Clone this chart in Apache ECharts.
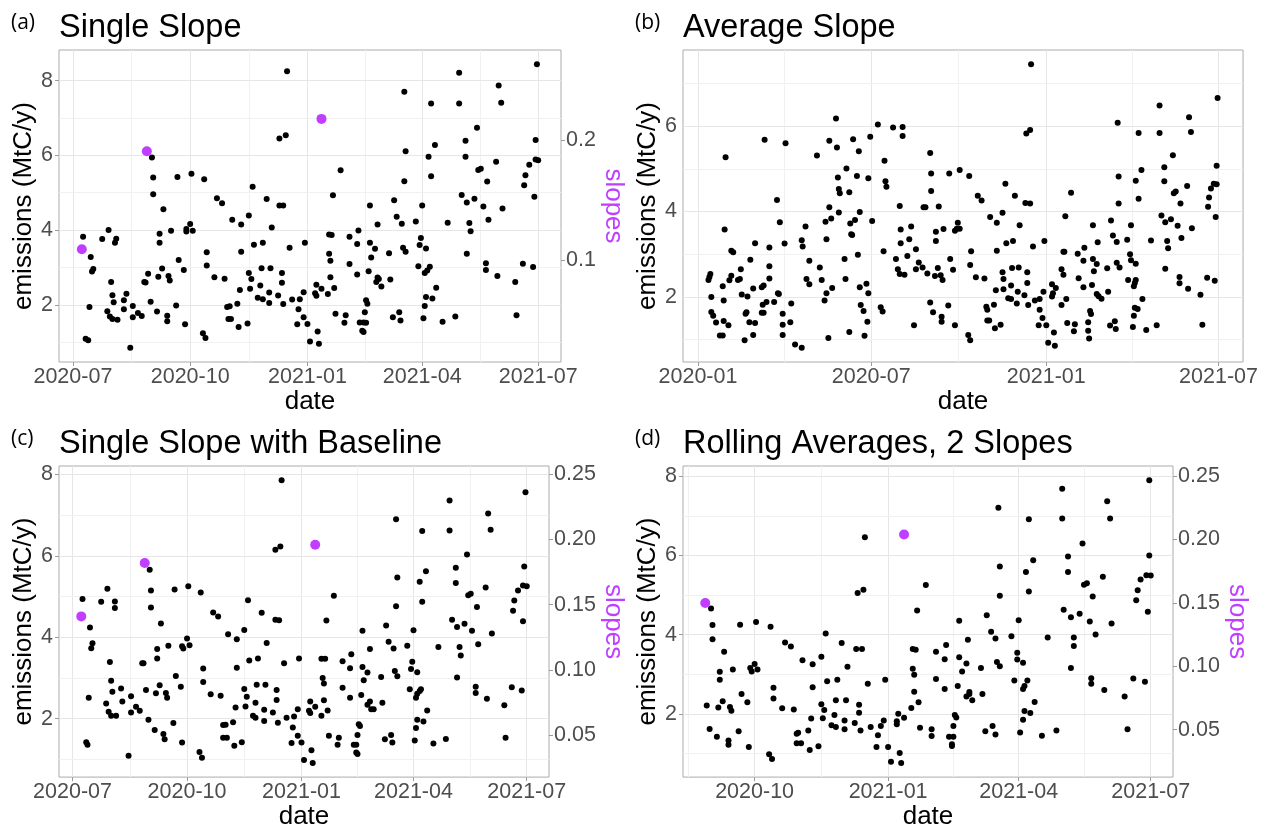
<!DOCTYPE html>
<html><head><meta charset="utf-8">
<script src="https://cdn.jsdelivr.net/npm/echarts@6/dist/echarts.min.js"></script>
<style>html,body{margin:0;padding:0;background:#fff}#c{width:1261px;height:831px}</style>
</head><body><div id="c"></div><script>
// x values are days since 2020-01-01; y values are emissions (MtC/y); slopes on the secondary axis.
const singleSlopePts = [[190,3.82],[192,1.09],[194,1.05],[195,1.94],[196,3.28],[197,2.89],[198,2.96],[205,3.76],[210,4.00],[209,1.83],[211,1.69],[213,1.62],[217,1.60],[212,2.61],[213,2.26],[214,2.07],[215,3.66],[216,3.77],[222,2.12],[222,1.88],[224,2.30],[227,0.85],[229,1.97],[229,1.67],[233,1.78],[236,1.70],[238,2.61],[239,2.60],[241,2.83],[243,2.08],[244,5.94],[245,5.41],[245,4.96],[248,1.82],[249,2.75],[250,3.66],[250,3.90],[252,2.97],[253,4.56],[256,1.71],[256,1.56],[257,2.77],[258,2.65],[259,3.98],[263,1.98],[264,5.42],[265,3.20],[269,2.93],[270,1.48],[271,3.96],[271,4.03],[274,4.16],[276,3.98],[275,5.51],[284,1.24],[286,1.11],[285,5.36],[287,3.41],[287,3.05],[293,2.74],[295,4.85],[299,4.72],[301,2.70],[303,1.94],[305,1.96],[304,1.62],[306,1.62],[307,4.28],[311,2.03],[312,1.41],[313,2.40],[314,3.42],[314,4.15],[319,1.50],[320,4.39],[320,2.85],[321,2.43],[322,2.69],[323,5.16],[324,3.61],[327,2.19],[329,2.52],[330,2.98],[331,2.15],[331,3.66],[334,4.83],[336,2.33],[336,2.05],[337,2.98],[338,4.07],[343,2.25],[344,6.45],[344,4.66],
[346,2.85],[346,2.59],[347,4.66],[349,6.54],[350,8.25],[352,3.53],[347,2.02],[354,2.14],[358,1.48],[359,1.88],[360,2.15],[363,1.67],[363,2.34],[364,3.66],[366,1.49],[368,1.02],[372,2.31],[373,2.24],[373,2.54],[374,1.29],[375,0.96],[377,2.43],[382,2.29],[383,3.37],[383,3.88],[385,3.87],[384,3.18],[384,2.74],[386,4.93],[387,2.45],[388,1.76],[392,5.60],[395,1.52],[396,1.72],[399,3.82],[399,3.09],[405,2.81],[405,3.63],[406,3.99],[407,1.53],[410,1.53],[412,1.52],[409,1.31],[410,1.27],[411,1.80],[412,2.12],[413,2.03],[414,2.90],[415,4.66],[415,3.66],[416,3.27],[419,3.50],[420,2.61],[421,2.73],[422,2.69],[424,2.49],[421,4.15],[430,3.38],[431,2.68],[433,1.67],[434,4.80],[436,4.36],[438,1.80],[439,1.58],[440,4.17],[441,3.53],[443,3.42],[442,7.70],[442,5.31],[443,6.11],[451,4.23],[453,3.03],[454,3.60],[455,3.79],[456,4.66],[457,1.64],[458,1.97],[458,2.85],[460,2.92],[462,3.02],[459,3.51],[459,2.21],[461,5.96],[463,7.39],[463,5.44],[464,2.17],[466,6.28],[467,2.46],[472,1.55],[476,4.20],[482,1.69],[485,8.21],[485,7.39],[487,4.94],[490,6.39],[490,5.96],[491,4.74],[491,3.37],[493,4.19],[494,3.97],[497,4.84],[499,6.74],[500,5.61],[502,5.64],[504,4.63],[506,3.11],[506,2.93],[507,5.30],[508,4.28],[514,5.83],[515,2.77],[516,7.87],[518,7.41],[519,4.58],[529,2.61],[530,1.72],[535,3.10],[536,5.20],[537,5.47],[540,5.75],[543,3.01],[544,4.89],[545,6.41],[545,5.89],[547,5.87],[546,8.44]];
const singleSlopeSlopes = [[189,0.109],[240,0.191],[377,0.218]];

const averageSlopePts = [[11,2.40],[12,2.47],[13,2.54],[14,2.00],[14,1.65],[16,1.56],[19,1.40],[23,1.10],[26,1.10],[26,2.25],[27,1.44],[27,1.92],[28,3.58],[29,5.27],[32,1.34],[33,2.39],[35,3.08],[37,3.05],[35,2.50],[42,2.40],[44,2.42],[45,2.65],[46,2.06],[49,0.99],[50,1.61],[51,1.64],[52,2.01],[54,1.41],[55,2.87],[58,2.20],[58,1.11],[60,3.26],[60,1.39],[67,2.23],[69,2.27],[67,1.63],[69,1.63],[68,1.82],[70,5.68],[72,1.88],[75,3.16],[75,2.43],[75,2.72],[80,1.88],[83,4.27],[84,2.09],[85,2.07],[86,3.75],[89,1.61],[89,1.35],[89,1.11],[91,3.25],[92,5.60],[98,1.85],[97,1.41],[102,0.89],[109,0.81],[109,3.33],[110,3.18],[113,3.65],[114,2.42],[117,2.30],[117,2.85],[125,5.31],[128,2.69],[130,2.40],[133,1.92],[134,3.76],[135,2.09],[135,3.35],[137,1.04],[138,5.66],[138,4.10],[140,3.84],[141,2.21],[145,6.18],[146,5.50],[147,4.80],[148,4.53],[149,4.43],[148,3.98],[154,2.89],[155,2.42],[156,5.01],[159,1.18],[159,4.45],[160,3.72],[161,3.47],[162,3.45],[163,5.69],[165,3.80],[167,4.83],[168,2.99],[169,5.41],[170,3.99],[170,2.23],[171,1.81],[174,1.67],[175,1.09],[177,2.31],[178,1.42],[179,2.09],[179,4.78],[181,5.75],[183,3.78],[189,6.04],[192,1.76],[194,1.66],[195,3.07],[196,5.19],[197,4.71],[198,4.58],[205,5.97],[208,2.89],[210,2.65],[212,4.13],[213,3.58],[212,2.54],[217,2.52],[213,3.26],[215,5.98],[215,5.77],[220,2.96],[222,3.35],[224,3.65],[227,1.34],[229,3.12],[229,2.65],[232,2.81],[236,2.69],[237,4.10],[239,4.10],[241,2.55],
[244,5.37],[245,4.89],[245,4.48],[244,1.87],[249,2.49],[247,1.64],[250,3.53],[250,3.31],[252,2.68],[253,4.12],[255,2.51],[256,1.54],[256,1.42],[257,2.40],[258,3.59],[263,1.80],[264,4.89],[265,2.89],[268,2.64],[270,1.34],[270,3.55],[272,3.60],[273,3.74],[275,3.60],[275,4.97],[284,1.11],[286,0.99],[285,4.83],[286,2.75],[287,3.07],[292,2.46],[294,4.37],[298,4.26],[301,2.43],[303,1.77],[304,1.70],[304,1.45],[306,1.45],[307,3.87],[311,1.82],[312,1.27],[314,3.74],[314,3.08],[313,2.16],[318,1.35],[320,3.97],[320,2.58],[321,2.42],[321,2.18],[323,4.65],[324,3.26],[326,1.97],[329,1.95],[329,2.27],[330,2.68],[331,3.31],[333,4.37],[336,2.12],[335,1.85],[337,2.69],[338,3.68],[343,2.04],[344,4.20],[349,4.19],[345,5.83],[349,5.91],[346,2.58],[346,2.33],[347,1.81],[350,7.45],[352,3.18],[354,1.92],[359,1.70],[359,1.95],[358,1.34],[362,1.51],[363,2.12],[364,3.31],[366,1.34],[368,0.93],[372,2.30],[372,2.01],[373,2.09],[374,1.17],[375,0.86],[376,2.21],[382,1.81],[382,2.65],[384,3.06],[384,2.52],[385,3.06],[386,3.89],[387,1.95],[388,1.39],[392,4.44],[395,1.20],[396,1.36],[399,3.01],[400,2.44],[405,2.85],[405,2.23],[406,3.15],[410,1.41],[410,1.21],[411,1.03],[412,1.67],[413,1.60],[414,2.28],[415,3.68],[415,2.89],[416,2.60],[419,2.77],[420,3.28],[419,2.07],[421,2.02],[424,1.96],[430,2.67],[431,2.12],[433,1.33],[434,3.79],[436,3.44],[438,1.43],[439,1.25],[440,3.29],[440,2.80],[443,2.69],[441,6.08],[442,4.82],[442,4.19],[451,3.34],[454,3.00],[455,2.86],[455,3.68],[452,2.40],[457,1.30],[458,1.56],[459,1.75],[462,1.72],[458,2.25],[459,2.33],[460,2.40],[460,2.78],[460,4.72],[463,5.84],[463,4.30],[466,4.97],[467,1.95],[471,1.23],[476,3.32],[482,1.34],[485,6.48],[485,5.84],[487,3.91],[490,5.04],[490,4.71],[491,3.75],[491,2.66],[493,3.31],[494,3.14],[497,3.82],[499,5.32],[500,4.43],[502,4.47],[504,3.67],[506,2.47],[506,2.32],[507,4.19],[508,3.38],[514,4.60],[515,2.19],[516,6.21],[518,5.86],[519,3.61],[528,2.05],[530,1.35],[535,2.45],[536,4.11],[537,4.33],[539,4.54],[542,4.65],[545,4.64],[543,2.38],[544,3.87],[545,5.07],[546,6.66]];

const baselinePts = [[190,4.94],[193,1.42],[194,1.36],[195,2.51],[196,4.24],[197,3.73],[198,3.85],[205,4.87],[209,2.37],[210,5.19],[211,2.17],[213,2.07],[217,2.07],[212,3.39],[213,2.93],[214,2.66],[216,4.72],[216,4.88],[221,2.74],[222,2.42],[227,1.09],[229,2.55],[229,2.15],[233,2.29],[236,2.19],[238,3.36],[239,3.36],[241,2.70],[243,1.97],[244,5.66],[245,5.15],[245,4.73],[248,1.72],[249,2.62],[250,3.48],[250,3.71],[252,2.82],[253,4.34],[255,1.62],[256,1.49],[257,2.63],[258,2.51],[259,3.79],[263,1.89],[264,5.17],[265,3.05],[269,2.78],[270,1.41],[270,3.78],[271,3.72],[274,3.97],[276,3.80],[275,5.25],[284,1.18],[286,1.04],[285,5.10],[287,3.23],[287,2.90],[293,2.60],[295,4.61],[299,4.51],[301,2.56],[303,1.84],[305,1.85],[303,1.53],[306,1.53],[307,4.07],[311,1.91],[312,1.33],[313,2.27],[314,3.25],[314,3.95],[318,1.42],[320,2.73],[320,4.18],[321,2.30],[322,2.54],[323,4.91],[324,3.43],[327,2.07],[329,2.02],[329,2.39],[330,2.83],[331,3.48],[334,4.60],[336,1.94],[336,2.22],[337,2.83],[338,3.86],[343,2.15],[345,4.43],[348,4.42],[346,2.70],[346,2.46],[347,1.90],[345,6.15],
[349,6.23],[350,7.86],[352,3.36],[354,2.02],[358,1.40],[359,1.78],[360,2.05],[363,1.58],[364,3.48],[363,2.23],[366,1.41],[368,0.98],[372,2.19],[373,2.14],[373,2.42],[374,1.22],[375,0.91],[377,2.29],[382,2.07],[383,3.00],[384,2.86],[384,2.45],[382,3.47],[385,3.47],[386,4.41],[387,2.20],[388,1.58],[392,5.02],[395,1.36],[396,1.53],[399,3.41],[399,2.76],[405,3.24],[405,2.51],[406,3.58],[408,1.36],[410,1.36],[410,1.17],[411,1.13],[411,1.60],[412,1.86],[413,1.82],[414,2.58],[415,4.16],[415,3.27],[416,2.94],[419,3.13],[419,2.34],[421,2.42],[422,2.23],[424,2.23],[421,3.71],[430,3.02],[431,2.39],[433,1.49],[434,4.29],[436,3.89],[438,1.60],[439,1.41],[440,3.72],[441,3.17],[443,3.04],[442,6.90],[442,4.76],[443,5.47],[451,3.79],[453,2.72],[454,3.22],[455,3.40],[456,4.17],[457,1.46],[458,1.77],[458,2.51],[459,3.14],[459,1.97],[459,2.61],[461,2.68],[462,2.72],[461,5.36],[463,6.61],[463,4.87],[464,1.93],[466,5.62],[467,2.20],[472,1.39],[476,3.76],[482,1.50],[485,7.36],[485,6.62],[487,4.43],[490,5.71],[490,5.33],[491,4.25],[491,3.01],[493,3.76],[494,3.55],[497,4.33],[499,6.03],[500,5.03],[502,5.07],[503,4.16],[506,2.78],[506,2.63],[507,4.74],[508,3.83],[514,5.22],[515,2.49],[516,7.04],[518,6.64],[519,4.09],[529,2.33],[530,1.53],[535,2.77],[536,4.65],[537,4.90],[540,5.15],[543,2.69],[544,4.39],[545,5.74],[544,5.27],[547,5.25],[546,7.56]];
const baselineSlopes = [[189,0.141],[240,0.182],[377,0.196]];

const rollingPts = [[241,2.21],[243,1.62],[244,4.66],[245,4.24],[245,3.88],[248,1.42],[249,2.16],[250,3.06],[250,2.86],[252,2.32],[253,3.57],[256,1.33],[256,1.22],[257,2.17],[258,2.08],[259,3.12],[263,1.56],[264,4.25],[265,2.50],[269,2.29],[270,1.16],[271,3.16],[272,3.07],[274,3.26],[275,4.32],[276,3.12],[284,0.98],[286,0.86],[285,4.20],[287,2.66],[287,2.39],[293,2.14],[295,3.80],[299,3.70],[301,2.11],[303,1.50],[304,1.52],[303,1.26],[306,1.26],[307,3.35],[311,1.58],[312,1.09],[313,1.88],[314,2.67],[314,3.25],[318,1.18],[320,3.44],[320,2.24],[321,1.89],[322,2.10],[323,4.03],[324,2.82],[327,1.71],[330,1.67],[329,1.97],[330,2.34],[331,2.86],[334,3.79],[336,1.83],[336,1.61],[337,2.34],[338,3.19],[343,1.77],[344,3.64],[346,2.23],[346,2.03],[347,1.58],[345,5.05],[348,3.64],[349,5.13],[350,6.46],[352,2.76],[354,1.67],[358,1.16],[359,1.46],[361,1.69],[363,1.83],[364,2.86],[366,1.16],[368,0.79],[372,1.81],[372,1.74],[373,2.00],[374,1.01],[375,0.76],[377,1.90],[382,2.15],[383,3.14],[383,3.64],[385,3.62],[384,2.99],[384,2.56],[386,4.61],[387,2.29],[388,1.65],[392,5.25],
[396,1.61],[396,1.44],[399,3.57],[399,2.88],[405,2.63],[405,3.38],[406,3.74],[408,1.42],[411,1.42],[410,1.23],[410,1.19],[411,1.69],[412,1.97],[413,1.91],[414,2.70],[415,4.35],[415,3.43],[417,3.07],[420,3.27],[420,2.44],[422,2.50],[422,2.55],[424,2.34],[421,3.87],[430,3.16],[431,2.50],[433,1.56],[434,4.49],[437,4.07],[438,1.69],[440,1.48],[440,3.90],[441,3.31],[442,7.20],[443,5.72],[443,4.98],[443,3.20],[451,3.96],[453,2.84],[455,3.37],[455,3.54],[456,4.36],[457,1.53],[459,1.85],[459,2.63],[459,3.29],[460,2.07],[460,2.70],[461,5.58],[462,2.84],[463,6.91],[463,5.09],[464,2.02],[466,5.88],[467,2.30],[472,1.45],[476,3.93],[482,1.58],[486,7.68],[486,6.93],[487,4.63],[490,5.97],[490,5.58],[492,4.44],[492,3.16],[494,3.93],[494,3.71],[498,4.53],[500,6.30],[501,5.26],[503,5.30],[505,4.33],[506,2.90],[506,2.76],[507,4.96],[509,4.00],[514,5.46],[515,2.60],[517,7.37],[519,6.93],[520,4.28],[529,2.44],[531,1.61],[535,2.89],[537,4.87],[538,5.12],[540,5.39],[543,2.81],[545,4.58],[546,6.00],[544,5.50],[547,5.49],[546,7.90]];
const rollingSlopes = [[240,0.150],[377,0.204]];

const xTickLabelsA = ['2020-07','2020-10','2021-01','2021-04','2021-07'];
const xTickLabelsB = ['2020-01','2020-07','2021-01','2021-07'];
const xTickLabelsD = ['2020-10','2021-01','2021-04','2021-07'];
const yTicksMain = [2,4,6,8];
const secTicksA = [0.1,0.2];
const secTicksCD = [0.05,0.10,0.15,0.20,0.25];
const SEC_FACTOR = 32; // slopes axis = emissions / 32

const FONT = '"Liberation Sans", Arial, Helvetica, sans-serif';
const TAGFONT = '"Open Sans", "Noto Sans", sans-serif';
const PURPLE = '#BF3EFF';

function dayOf(s){ const p = s.split('-').map(Number); return (Date.UTC(p[0], p[1]-1, 1) - Date.UTC(2020,0,1)) / 864e5; }

const panels = [
  {tag:'(a)', title:'Single Slope', pts:singleSlopePts, slopes:singleSlopeSlopes, xLabels:xTickLabelsA, yTicks:yTicksMain, secTicks:secTicksA, secDigits:1,
   box:{left:59, top:50, width:502, height:312}, yNameGap:16, secNameGap:27, tagLeft:11},
  {tag:'(b)', title:'Average Slope', pts:averageSlopePts, slopes:null, xLabels:xTickLabelsB, yTicks:yTicksMain, secTicks:null,
   box:{left:683, top:50, width:565, height:312}, yNameGap:14, tagLeft:635},
  {tag:'(c)', title:'Single Slope with Baseline', pts:baselinePts, slopes:baselineSlopes, xLabels:xTickLabelsA, yTicks:yTicksMain, secTicks:secTicksCD, secDigits:2,
   box:{left:59, top:466, width:490, height:312}, yNameGap:16, secNameGap:43, tagLeft:11},
  {tag:'(d)', title:'Rolling Averages, 2 Slopes', pts:rollingPts, slopes:rollingSlopes, xLabels:xTickLabelsD, yTicks:yTicksMain, secTicks:secTicksCD, secDigits:2,
   box:{left:683, top:466, width:490, height:312}, yNameGap:14, secNameGap:40, tagLeft:635}
];

function minorsOf(majors, lo, hi){
  const ext = [majors[0] - (majors[1]-majors[0]), ...majors, majors[majors.length-1] + (majors[majors.length-1]-majors[majors.length-2])];
  const out = [];
  for (let i=0;i<ext.length-1;i++){ const m=(ext[i]+ext[i+1])/2; if (m>lo && m<hi) out.push(m); }
  return out;
}

const grids=[], xAxes=[], yAxes=[], series=[], titles=[];
const tickStyle = {show:true, length:4, lineStyle:{color:'#9a9a9a', width:1}};
const axisNameStyle = {color:'#000', fontSize:26, fontFamily:FONT};
const labelStyle = {color:'#4D4D4D', fontSize:21.5, fontFamily:FONT};

panels.forEach((p, i) => {
  const xs = p.pts.map(d=>d[0]).concat(p.slopes ? p.slopes.map(d=>d[0]) : []);
  const ys = p.pts.map(d=>d[1]).concat(p.slopes ? p.slopes.map(d=>d[1]*SEC_FACTOR) : []);
  const x0 = Math.min(...xs), x1 = Math.max(...xs), y0 = Math.min(...ys), y1 = Math.max(...ys);
  const xMin = x0 - 0.05*(x1-x0), xMax = x1 + 0.05*(x1-x0);
  const yMin = y0 - 0.05*(y1-y0), yMax = y1 + 0.05*(y1-y0);
  const xMaj = p.xLabels.map(dayOf);
  const xMajIn = xMaj.filter(v=>v>=xMin && v<=xMax);
  const yMajIn = p.yTicks.filter(v=>v>=yMin && v<=yMax);

  grids.push(Object.assign({show:true, borderColor:'#ABABAB', borderWidth:1, backgroundColor:'#fff', containLabel:false}, p.box));
  xAxes.push({type:'value', gridIndex:i, min:xMin, max:xMax, position:'bottom',
    axisLine:{show:false}, splitLine:{show:false},
    axisTick:Object.assign({customValues:xMajIn}, tickStyle),
    axisLabel:Object.assign({customValues:xMajIn, margin:4, formatter:(v)=>{ const k=xMaj.findIndex(t=>Math.abs(t-v)<0.5); return k>=0?p.xLabels[k]:''; }}, labelStyle),
    name:'date', nameLocation:'middle', nameGap:26, nameTextStyle:axisNameStyle});
  const yi = yAxes.length;
  yAxes.push({type:'value', gridIndex:i, min:yMin, max:yMax, position:'left',
    axisLine:{show:false}, splitLine:{show:false},
    axisTick:Object.assign({customValues:yMajIn}, tickStyle),
    axisLabel:Object.assign({customValues:yMajIn, margin:6, formatter:(v)=>String(Math.round(v))}, labelStyle),
    name:'emissions (MtC/y)', nameLocation:'middle', nameRotate:90, nameGap:p.yNameGap, nameTextStyle:axisNameStyle});
  let si = null;
  if (p.secTicks){
    si = yAxes.length;
    const sMin = yMin/SEC_FACTOR, sMax = yMax/SEC_FACTOR;
    const sIn = p.secTicks.filter(v=>v>=sMin && v<=sMax);
    yAxes.push({type:'value', gridIndex:i, min:sMin, max:sMax, position:'right',
      axisLine:{show:false}, splitLine:{show:false},
      axisTick:Object.assign({customValues:sIn}, tickStyle),
      axisLabel:Object.assign({customValues:sIn, margin:5, formatter:(v)=>v.toFixed(p.secDigits)}, labelStyle),
      name:'slopes', nameLocation:'middle', nameRotate:-90, nameGap:p.secNameGap,
      nameTextStyle:Object.assign({}, axisNameStyle, {color:PURPLE})});
  }
  // background grid lines (major + minor), ggplot-style
  const major = {color:'#E6E6E6', width:1, type:'solid'};
  const minor = {color:'#F1F1F1', width:1, type:'solid'};
  const lines = [];
  xMajIn.forEach(v=>lines.push({xAxis:v, lineStyle:major}));
  minorsOf(xMaj, xMin, xMax).forEach(v=>lines.push({xAxis:v, lineStyle:minor}));
  yMajIn.forEach(v=>lines.push({yAxis:v, lineStyle:major}));
  minorsOf(p.yTicks, yMin, yMax).forEach(v=>lines.push({yAxis:v, lineStyle:minor}));
  series.push({type:'scatter', xAxisIndex:i, yAxisIndex:yi, data:[], z:1, silent:true,
    markLine:{z:1, silent:true, symbol:['none','none'], animation:false, label:{show:false}, emphasis:{disabled:true}, data:lines}});
  series.push({type:'scatter', xAxisIndex:i, yAxisIndex:yi, data:p.pts, symbolSize:6, z:3,
    itemStyle:{color:'#000', opacity:1}, silent:true});
  if (p.slopes){
    series.push({type:'scatter', xAxisIndex:i, yAxisIndex:si, data:p.slopes, symbolSize:10, z:4,
      itemStyle:{color:PURPLE, opacity:1}, silent:true});
  }
  titles.push({text:p.title, left:p.box.left, top:p.box.top-38, padding:0,
    textStyle:{color:'#000', fontSize:32.5, fontWeight:'normal', fontFamily:FONT}});
  titles.push({text:p.tag, left:p.tagLeft, top:p.box.top-37, padding:0,
    textStyle:{color:'#000', fontSize:21, fontWeight:'normal', fontFamily:TAGFONT}});
});

const chart = echarts.init(document.getElementById('c'), null, {renderer:'canvas'});
chart.setOption({animation:false, backgroundColor:'#fff', title:titles, grid:grids, xAxis:xAxes, yAxis:yAxes, series:series});
</script></body></html>
